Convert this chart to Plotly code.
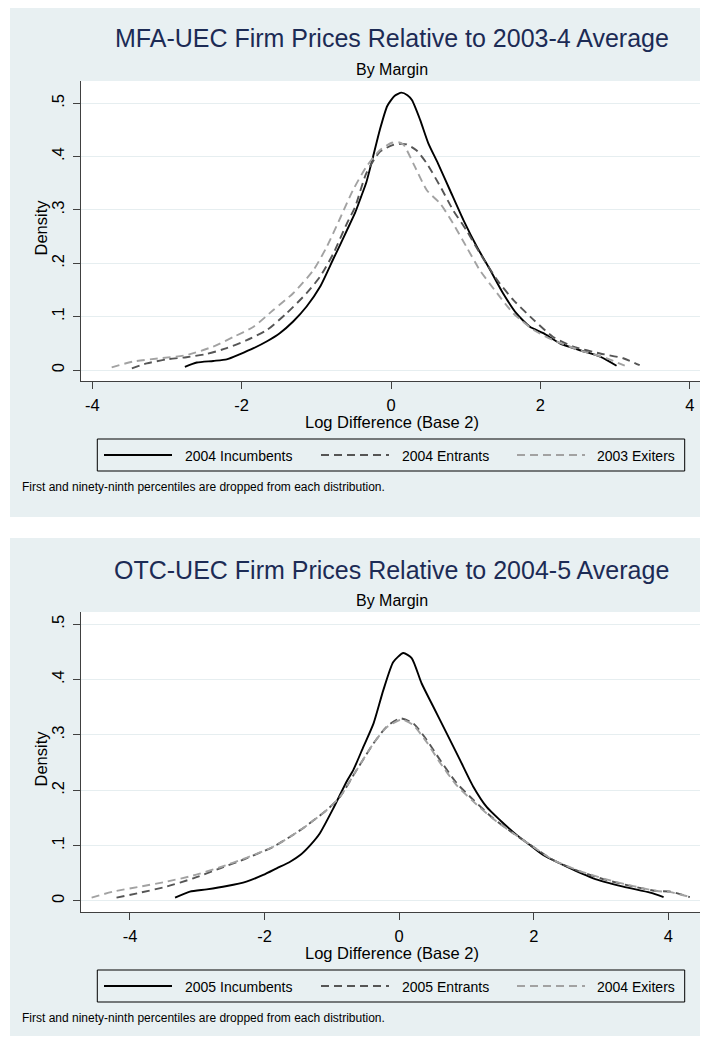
import plotly.graph_objects as go

# ---------------- data ----------------
mfa_inc_x = [-2.76, -2.60, -2.38, -2.20, -2.02, -1.84, -1.66, -1.49, -1.31, -1.13, -0.95, -0.77, -0.68,
             -0.59, -0.48, -0.40, -0.33, -0.24, -0.15, -0.05, 0.05, 0.14, 0.22, 0.28, 0.39, 0.50, 0.63,
             0.79, 0.97, 1.15, 1.33, 1.50, 1.68, 1.86, 2.04, 2.26, 2.53, 2.80, 3.02]
mfa_inc_y = [0.006, 0.014, 0.017, 0.020, 0.030, 0.041, 0.054, 0.069, 0.091, 0.119, 0.156, 0.209, 0.235,
             0.262, 0.295, 0.325, 0.352, 0.400, 0.450, 0.495, 0.514, 0.520, 0.515, 0.506, 0.469, 0.425, 0.387,
             0.337, 0.281, 0.231, 0.187, 0.144, 0.106, 0.081, 0.069, 0.050, 0.037, 0.025, 0.008]

mfa_ent_x = [-3.47, -3.27, -3.00, -2.74, -2.47, -2.20, -1.93, -1.66, -1.40, -1.13, -0.95, -0.77, -0.59,
             -0.48, -0.33, -0.15, 0.03, 0.14, 0.21, 0.34, 0.48, 0.66, 0.83, 1.01, 1.19, 1.42, 1.64, 1.91,
             2.17, 2.44, 2.80, 3.11, 3.33]
mfa_ent_y = [0.003, 0.0125, 0.020, 0.024, 0.030, 0.041, 0.056, 0.075, 0.106, 0.144, 0.175, 0.219, 0.275,
             0.306, 0.369, 0.409, 0.422, 0.424, 0.423, 0.412, 0.387, 0.344, 0.300, 0.262, 0.219, 0.169, 0.131,
             0.094, 0.062, 0.044, 0.031, 0.022, 0.009]

mfa_exi_x = [-3.74, -3.45, -3.09, -2.74, -2.38, -2.11, -1.84, -1.58, -1.31, -1.04, -0.86, -0.68, -0.51,
             -0.33, -0.15, 0.01, 0.10, 0.17, 0.30, 0.48, 0.66, 0.83, 1.01, 1.19, 1.42, 1.64, 1.91, 2.17,
             2.53, 2.89, 3.13]
mfa_exi_y = [0.005, 0.016, 0.022, 0.028, 0.044, 0.062, 0.081, 0.112, 0.144, 0.187, 0.231, 0.285, 0.337,
             0.381, 0.412, 0.426, 0.427, 0.422, 0.387, 0.337, 0.312, 0.275, 0.231, 0.187, 0.144, 0.106, 0.075,
             0.056, 0.037, 0.022, 0.008]

otc_inc_x = [-3.33, -3.11, -2.86, -2.56, -2.27, -2.02, -1.82, -1.62, -1.47, -1.32, -1.18, -0.98, -0.78,
             -0.68, -0.53, -0.38, -0.235, -0.087, 0.062, 0.186, 0.335, 0.508, 0.707, 0.904, 1.10, 1.30, 1.50,
             1.75, 1.945, 2.14, 2.49, 2.885, 3.33, 3.73, 3.93]
otc_inc_y = [0.006, 0.017, 0.021, 0.027, 0.035, 0.047, 0.059, 0.071, 0.083, 0.101, 0.122, 0.167, 0.216,
             0.237, 0.279, 0.321, 0.381, 0.432, 0.448, 0.439, 0.393, 0.351, 0.303, 0.255, 0.207, 0.170, 0.146,
             0.119, 0.101, 0.083, 0.062, 0.041, 0.026, 0.015, 0.007]

otc_ent_x = [-4.20, -3.85, -3.455, -3.06, -2.66, -2.27, -1.87, -1.47, -1.08, -0.88, -0.63, -0.38, -0.185,
             0.013, 0.21, 0.41, 0.607, 0.855, 1.10, 1.40, 1.70, 1.99, 2.29, 2.69, 3.08, 3.48, 3.83, 4.03, 4.32]
otc_ent_y = [0.006, 0.015, 0.026, 0.041, 0.059, 0.077, 0.098, 0.128, 0.164, 0.188, 0.237, 0.285, 0.315,
             0.330, 0.321, 0.291, 0.255, 0.213, 0.183, 0.149, 0.122, 0.098, 0.074, 0.053, 0.038, 0.026, 0.018,
             0.017, 0.007]

otc_exi_x = [-4.57, -4.25, -3.85, -3.455, -3.06, -2.66, -2.27, -1.87, -1.47, -1.08, -0.88, -0.63, -0.38,
             -0.185, 0.013, 0.07, 0.21, 0.41, 0.607, 0.855, 1.10, 1.40, 1.70, 1.99, 2.29, 2.69, 3.08, 3.48,
             3.83, 4.03, 4.33]
otc_exi_y = [0.006, 0.017, 0.026, 0.035, 0.046, 0.061, 0.078, 0.098, 0.128, 0.164, 0.188, 0.237, 0.285,
             0.314, 0.327, 0.327, 0.318, 0.287, 0.250, 0.209, 0.180, 0.148, 0.122, 0.098, 0.074, 0.054, 0.039,
             0.027, 0.018, 0.016, 0.007]

titles = ["MFA-UEC Firm Prices Relative to 2003-4 Average",
          "OTC-UEC Firm Prices Relative to 2004-5 Average"]
subtitle = "By Margin"
legend_labels = [["2004 Incumbents", "2004 Entrants", "2003 Exiters"],
                 ["2005 Incumbents", "2005 Entrants", "2004 Exiters"]]
x_title = "Log Difference (Base 2)"
y_title = "Density"
note = "First and ninety-ninth percentiles are dropped from each distribution."
x_ticks = [-4, -2, 0, 2, 4]
x_ticktext = ["-4", "-2", "0", "2", "4"]
y_ticks = [0, 0.1, 0.2, 0.3, 0.4, 0.5]
y_ticktext = ["0", ".1", ".2", ".3", ".4", ".5"]
x_ranges = [[-4.151, 4.151], [-4.728, 4.486]]
y_ranges = [[-0.0206, 0.5418], [-0.0199, 0.5222]]

# ---------------- styling ----------------
# The page body has an 8px margin, so the figure is 8px smaller and every
# window-pixel position below is shifted by that margin.
MARGIN = 8
W, H = 708 - MARGIN, 1042 - MARGIN
FONT = "Liberation Sans, Arial, Helvetica, sans-serif"
PANEL_BG = "#E8F0F2"
GRID = "#E6EEF0"
TITLE_C = "#1C2B55"
AX_C = "#404040"
series_styles = [dict(color="#000000", width=1.9, dash="solid"),
                 dict(color="#555555", width=1.9, dash="8px,5px"),
                 dict(color="#A2A2A2", width=1.9, dash="8px,5px")]


def px(x):
    return (x - MARGIN) / W


def py(y):
    return 1 - (y - MARGIN) / H


fig = go.Figure()

datasets = [
    [(mfa_inc_x, mfa_inc_y), (mfa_ent_x, mfa_ent_y), (mfa_exi_x, mfa_exi_y)],
    [(otc_inc_x, otc_inc_y), (otc_ent_x, otc_ent_y), (otc_exi_x, otc_exi_y)],
]

shapes = []
annotations = []
PLOT_L, PLOT_R = 81, 701
OFF = 531

for p in range(2):
    o = OFF * p
    xa = "x" if p == 0 else "x2"
    ya = "y" if p == 0 else "y2"
    for s, (xs, ys) in enumerate(datasets[p]):
        fig.add_trace(go.Scatter(x=xs, y=ys, mode="lines", xaxis=xa, yaxis=ya,
                                 line=dict(shape="spline", smoothing=0.6, **series_styles[s]),
                                 name=legend_labels[p][s], showlegend=False, hoverinfo="skip"))
    # panel background
    top_bg = max(7 + o, MARGIN)
    bot_bg = min(517 + o, 1036)
    shapes.append(dict(type="rect", xref="paper", yref="paper", layer="below",
                       x0=px(10), x1=1.02, y0=py(bot_bg), y1=py(top_bg),
                       fillcolor=PANEL_BG, line=dict(width=0)))
    # plot area
    shapes.append(dict(type="rect", xref="paper", yref="paper", layer="below",
                       x0=px(PLOT_L), x1=px(PLOT_R), y0=py(381 + o), y1=py(81 + o),
                       fillcolor="white", line=dict(width=0)))
    # legend box
    shapes.append(dict(type="rect", xref="paper", yref="paper", layer="above",
                       x0=px(97.3), x1=px(684.7), y0=py(471 + o), y1=py(439 + o),
                       fillcolor="rgba(0,0,0,0)", line=dict(color="#000000", width=1)))
    leg_line_x = [(104, 172), (321, 389), (517, 585)]
    leg_text_x = [182.7, 399.5, 595.3]
    for s in range(3):
        st = series_styles[s]
        shapes.append(dict(type="line", xref="paper", yref="paper", layer="above",
                           x0=px(leg_line_x[s][0]), x1=px(leg_line_x[s][1]),
                           y0=py(455 + o), y1=py(455 + o),
                           line=dict(color=st["color"], width=2.2, dash=st["dash"])))
        annotations.append(dict(text=legend_labels[p][s], xref="paper", yref="paper",
                                x=px(leg_text_x[s]), y=py(455.5 + o), xanchor="left", yanchor="middle",
                                showarrow=False, font=dict(family=FONT, size=14, color="#000000")))
    # titles
    annotations.append(dict(text=titles[p], xref="paper", yref="paper", x=px(391.5), y=py(38.5 + o),
                            xanchor="center", yanchor="middle", showarrow=False,
                            font=dict(family=FONT, size=25, color=TITLE_C)))
    annotations.append(dict(text=subtitle, xref="paper", yref="paper", x=px(391.5), y=py(69 + o),
                            xanchor="center", yanchor="middle", showarrow=False,
                            font=dict(family=FONT, size=16, color="#000000")))
    annotations.append(dict(text=x_title, xref="paper", yref="paper", x=px(391.5), y=py(421.5 + o),
                            xanchor="center", yanchor="middle", showarrow=False,
                            font=dict(family=FONT, size=16.5, color="#000000")))
    annotations.append(dict(text=y_title, xref="paper", yref="paper", x=px(40.5), y=py(228 + o),
                            xanchor="center", yanchor="middle", textangle=-90, showarrow=False,
                            font=dict(family=FONT, size=16.5, color="#000000")))
    annotations.append(dict(text=note, xref="paper", yref="paper", x=px(20), y=py(487 + o),
                            xanchor="left", yanchor="middle", showarrow=False,
                            font=dict(family=FONT, size=12, color="#000000")))

common_x = dict(tickvals=x_ticks, ticktext=x_ticktext, ticks="outside", ticklen=7, tickcolor=AX_C,
                tickwidth=1, showline=True, linecolor=AX_C, linewidth=1, showgrid=False, zeroline=False,
                tickfont=dict(family=FONT, size=16.5, color="#000000"), ticklabelstandoff=2,
                fixedrange=True)
common_y = dict(tickvals=y_ticks, ticktext=y_ticktext, tickangle=-90, ticks="outside", ticklen=7,
                tickcolor=AX_C, tickwidth=1, showline=True, linecolor=AX_C, linewidth=1,
                showgrid=True, gridcolor=GRID, gridwidth=1, zeroline=False,
                tickfont=dict(family=FONT, size=16.5, color="#000000"), ticklabelstandoff=2,
                fixedrange=True)

fig.update_layout(
    width=W, height=H, margin=dict(l=0, r=0, t=0, b=0),
    paper_bgcolor="white", plot_bgcolor="rgba(0,0,0,0)", showlegend=False,
    xaxis=dict(domain=[px(PLOT_L), px(PLOT_R)], range=x_ranges[0], anchor="y", **common_x),
    yaxis=dict(domain=[py(381), py(81)], range=y_ranges[0], anchor="x", **common_y),
    xaxis2=dict(domain=[px(PLOT_L), px(PLOT_R)], range=x_ranges[1], anchor="y2", **common_x),
    yaxis2=dict(domain=[py(381 + OFF), py(81 + OFF)], range=y_ranges[1], anchor="x2", **common_y),
    shapes=shapes, annotations=annotations,
)

fig.write_html("out.html")
